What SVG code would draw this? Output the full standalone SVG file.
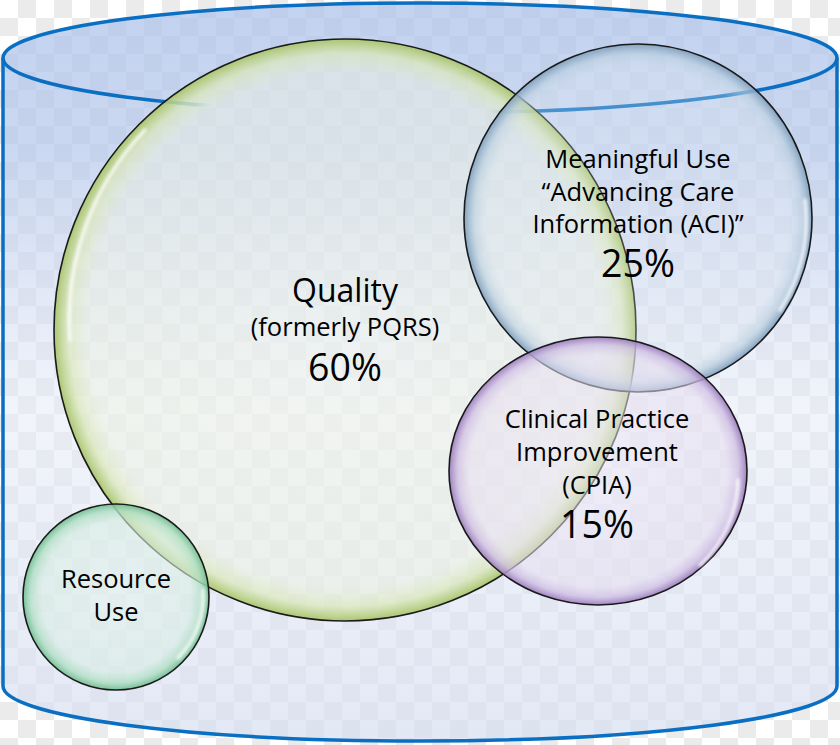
<svg xmlns="http://www.w3.org/2000/svg" width="840" height="745" viewBox="0 0 840 745">
<defs>
<pattern id="checker" x="0" y="0" width="36" height="36" patternUnits="userSpaceOnUse">
<rect width="36" height="36" fill="#ffffff"/>
<rect x="18" y="0" width="18" height="18" fill="#ebebeb"/>
<rect x="0" y="18" width="18" height="18" fill="#ebebeb"/>
</pattern>
<linearGradient id="cylFill" gradientUnits="userSpaceOnUse" x1="0" y1="0" x2="0" y2="745">
<stop offset="0" stop-color="#aec3ea" stop-opacity="0.75"/>
<stop offset="0.2" stop-color="#b4c7eb" stop-opacity="0.7"/>
<stop offset="0.55" stop-color="#e6ebf7" stop-opacity="0.55"/>
<stop offset="1" stop-color="#d6def1" stop-opacity="0.7"/>
</linearGradient>
<radialGradient id="gGreen" cx="0.5" cy="0.5" r="0.5">
<stop offset="0" stop-color="#f3f6ea" stop-opacity="0.45"/>
<stop offset="0.88" stop-color="#eef3e0" stop-opacity="0.45"/>
<stop offset="0.95" stop-color="#dbe8bb" stop-opacity="0.75"/>
<stop offset="1" stop-color="#a8c46a" stop-opacity="0.95"/>
</radialGradient>
<radialGradient id="gBlue" cx="0.5" cy="0.5" r="0.5">
<stop offset="0" stop-color="#eef3f8" stop-opacity="0.15"/>
<stop offset="0.86" stop-color="#dfe8f0" stop-opacity="0.3"/>
<stop offset="0.94" stop-color="#bcd0e0" stop-opacity="0.65"/>
<stop offset="1" stop-color="#7f9fbd" stop-opacity="0.95"/>
</radialGradient>
<radialGradient id="gPurple" cx="0.5" cy="0.5" r="0.5">
<stop offset="0" stop-color="#eee8f6" stop-opacity="0.5"/>
<stop offset="0.86" stop-color="#e6ddf0" stop-opacity="0.55"/>
<stop offset="0.94" stop-color="#cfbde3" stop-opacity="0.75"/>
<stop offset="1" stop-color="#9a7cbc" stop-opacity="0.95"/>
</radialGradient>
<radialGradient id="gMint" cx="0.5" cy="0.5" r="0.5">
<stop offset="0" stop-color="#e4f2ec" stop-opacity="0.55"/>
<stop offset="0.8" stop-color="#d8eee3" stop-opacity="0.6"/>
<stop offset="0.92" stop-color="#b0dfc4" stop-opacity="0.8"/>
<stop offset="1" stop-color="#72bd92" stop-opacity="0.95"/>
</radialGradient>
<radialGradient id="hideG" gradientUnits="userSpaceOnUse" cx="345" cy="330" r="291">
<stop offset="0" stop-color="#000"/>
<stop offset="0.9" stop-color="#000"/>
<stop offset="0.97" stop-color="#fff"/>
<stop offset="1" stop-color="#fff"/>
</radialGradient>
<mask id="lineMask" maskUnits="userSpaceOnUse" x="0" y="0" width="840" height="745">
<rect width="840" height="745" fill="#fff"/>
<circle cx="345" cy="330" r="291" fill="url(#hideG)"/>
</mask>
<filter id="soft" x="-20%" y="-20%" width="140%" height="140%">
<feGaussianBlur stdDeviation="1.6"/>
</filter>
<style>
.edge{stroke:#1a1a1a;stroke-width:1.6}
.shine{fill:none;stroke:#ffffff;stroke-opacity:0.8;stroke-width:3.5;stroke-linecap:round;filter:url(#soft)}
.cyl{fill:none;stroke:#0a6fc2;stroke-width:3.5}
text{font-family:"Open Sans","Noto Sans","Liberation Sans",sans-serif;fill:#000000;text-anchor:middle}
.t25{font-size:25.5px}
.t32{font-size:32px}
.t37{font-size:37.5px}
</style>
</defs>

<rect width="840" height="745" fill="url(#checker)"/>

<g id="cylinder">
<path d="M3,58 A417,55 0 0 1 837,58 L837,686 A417,55 0 0 1 3,686 Z" fill="url(#cylFill)"/>
<ellipse class="cyl" cx="420" cy="58" rx="417" ry="55" mask="url(#lineMask)"/>
<path class="cyl" d="M3,58 L3,686 A417,55 0 0 0 837,686 L837,58"/>
</g>

<g id="quality">
<circle cx="345" cy="330" r="291" fill="url(#gGreen)" class="edge"/>
<path class="shine" d="M145,130 A275,275 0 0 0 70,340" stroke-opacity="0.6"/>
<text class="t32" x="345" y="302">Quality</text>
<text class="t25" x="345" y="336">(formerly PQRS)</text>
<text class="t37" x="345" y="381">60%</text>
</g>

<g id="resource-use">
<circle cx="116" cy="597" r="93" fill="url(#gMint)" class="edge"/>
<path class="shine" d="M203,590 A86,86 0 0 1 178,658"/>
<text class="t25" x="116" y="588">Resource</text>
<text class="t25" x="116" y="621">Use</text>
</g>

<g id="meaningful-use">
<circle cx="638" cy="218" r="174" fill="url(#gBlue)" class="edge"/>
<path class="shine" d="M805,200 A167,167 0 0 1 780,310"/>
<text class="t25" x="638" y="168">Meaningful Use</text>
<text class="t25" x="638" y="201">“Advancing Care</text>
<text class="t25" x="638" y="233">Information (ACI)”</text>
<text class="t37" x="638" y="277">25%</text>
</g>

<g id="cpia">
<ellipse cx="598" cy="471" rx="149" ry="134" fill="url(#gPurple)" class="edge"/>
<path class="shine" d="M738,480 A141,126 0 0 1 700,565"/>
<text class="t25" x="597" y="428">Clinical Practice</text>
<text class="t25" x="597" y="461">Improvement</text>
<text class="t25" x="597" y="494">(CPIA)</text>
<text class="t37" x="597" y="538">15%</text>
</g>

<g id="connectors"/>
</svg>
